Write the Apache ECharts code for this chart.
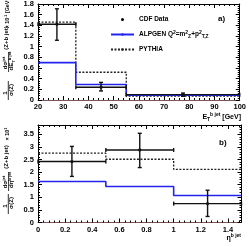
<!DOCTYPE html>
<html><head><meta charset="utf-8">
<script src="https://cdn.jsdelivr.net/npm/echarts@6/dist/echarts.min.js"></script>
<style>html,body{margin:0;padding:0;background:#fff}#c{width:249px;height:247px}</style>
</head><body><div id="c"></div>
<script>
// ---- Panel a) : E_T of b jet ----
var edgesA = [20, 35, 55, 100];
var cdfXA = [27.5, 45, 77.5];
var cdfA = [1.42, 0.24, 0.10];
var cdfLoA = [1.12, 0.17, 0.07];
var cdfHiA = [1.71, 0.33, 0.13];
var alpgenA = [0.70, 0.29, 0.09];
var pythiaA = [1.46, 0.52, 0.075];
var xTicksA = [20, 30, 40, 50, 60, 70, 80, 90, 100];
var yTicksA = [0, 0.2, 0.4, 0.6, 0.8, 1, 1.2, 1.4, 1.6, 1.8];
// ---- Panel b) : eta of b jet ----
var edgesB = [0, 0.5, 1.0, 1.5];
var cdfXB = [0.25, 0.75, 1.25];
var cdfB = [2.42, 2.88, 0.75];
var cdfLoB = [1.83, 2.18, 0.24];
var cdfHiB = [3.02, 3.54, 1.28];
var alpgenB = [1.63, 1.43, 1.07];
var pythiaB = [2.75, 2.51, 2.11];
var xTicksB = [0, 0.2, 0.4, 0.6, 0.8, 1, 1.2, 1.4];
var yTicksB = [0, 0.5, 1, 1.5, 2, 2.5, 3, 3.5];

var FF = '"Liberation Sans", Arial, sans-serif';
var BLUE = '#2424f0';

function stepData(edges, vals) {
  var d = [];
  for (var i = 0; i < vals.length; i++) d.push([edges[i], vals[i]]);
  d.push([edges[edges.length - 1], vals[vals.length - 1]]);
  return d;
}
function errData(edges, xs, ys, lo, hi) {
  var d = [];
  for (var i = 0; i < xs.length; i++) d.push([xs[i], ys[i], lo[i], hi[i], edges[i], edges[i + 1]]);
  return d;
}
function renderErr(params, api) {
  var p = api.coord([api.value(0), api.value(1)]);
  var pl = api.coord([api.value(4), api.value(1)]);
  var pr = api.coord([api.value(5), api.value(1)]);
  var plo = api.coord([api.value(0), api.value(2)]);
  var phi = api.coord([api.value(0), api.value(3)]);
  var st = {stroke: '#111', lineWidth: 1.4};
  var c = 2;
  return {type: 'group', children: [
    {type: 'line', shape: {x1: pl[0], y1: p[1], x2: pr[0], y2: p[1]}, style: st},
    {type: 'line', shape: {x1: pl[0], y1: p[1] - c, x2: pl[0], y2: p[1] + c}, style: st},
    {type: 'line', shape: {x1: pr[0], y1: p[1] - c, x2: pr[0], y2: p[1] + c}, style: st},
    {type: 'line', shape: {x1: p[0], y1: plo[1], x2: p[0], y2: phi[1]}, style: st},
    {type: 'line', shape: {x1: p[0] - c, y1: plo[1], x2: p[0] + c, y2: plo[1]}, style: st},
    {type: 'line', shape: {x1: p[0] - c, y1: phi[1], x2: p[0] + c, y2: phi[1]}, style: st},
    {type: 'circle', shape: {cx: p[0], cy: p[1], r: 1.6}, style: {fill: '#111'}}
  ]};
}
function isTick(v, ticks) {
  for (var i = 0; i < ticks.length; i++) if (Math.abs(ticks[i] - v) < 1e-6) return true;
  return false;
}
var lblStyle = {fontSize: 7.5, fontWeight: 'bold', color: '#000', fontFamily: FF};
function xAxisDef(grid, min, max, interval, ticks, pos, labels, lineColor) {
  return {
    type: 'value', gridIndex: grid, min: min, max: max, interval: interval, position: pos,
    axisLine: {show: true, onZero: false, lineStyle: {color: lineColor || '#000', width: 1}},
    axisTick: {show: true, inside: true, length: 4, lineStyle: {color: '#000'}},
    minorTick: {show: true, splitNumber: 5, length: 2, lineStyle: {color: '#000'}},
    splitLine: {show: false},
    axisLabel: labels ? Object.assign({margin: 3, showMaxLabel: isTick(max, ticks),
      formatter: function (v) { return isTick(v, ticks) ? String(v) : ''; }}, lblStyle) : {show: false}
  };
}
function yAxisDef(grid, min, max, interval, ticks, pos, labels) {
  return {
    type: 'value', gridIndex: grid, min: min, max: max, interval: interval, position: pos,
    axisLine: {show: true, onZero: false, lineStyle: {color: '#000', width: 1}},
    axisTick: {show: true, inside: true, length: 4, lineStyle: {color: '#000'}},
    minorTick: {show: true, splitNumber: 5, length: 2, lineStyle: {color: '#000'}},
    splitLine: {show: false},
    axisLabel: labels ? Object.assign({margin: 4, showMaxLabel: isTick(max, ticks),
      formatter: function (v) { return isTick(v, ticks) ? String(v) : ''; }}, lblStyle) : {show: false}
  };
}

var richSS = {
  sup: {fontSize: 5, fontWeight: 'bold', fontFamily: FF, verticalAlign: 'top', lineHeight: 9},
  sub: {fontSize: 5, fontWeight: 'bold', fontFamily: FF, verticalAlign: 'bottom', lineHeight: 9},
  n: {fontSize: 6.5, fontWeight: 'bold', fontFamily: FF, lineHeight: 9}
};
function rtext(cx, cy, txt, size) {
  var s = size || 6;
  return {type: 'text', x: cx, y: cy, rotation: Math.PI / 2, z: 100,
    style: {text: txt, x: 0, y: 0, align: 'center', verticalAlign: 'middle', textAlign: 'center', textVerticalAlign: 'middle',
      fill: '#000', font: 'bold ' + s + 'px ' + FF,
      rich: {
        sup: {fontSize: s * 0.7, fontWeight: 'bold', fontFamily: FF, verticalAlign: 'top', lineHeight: 8},
        sub: {fontSize: s * 0.7, fontWeight: 'bold', fontFamily: FF, verticalAlign: 'bottom', lineHeight: 8},
        n: {fontSize: s, fontWeight: 'bold', fontFamily: FF, lineHeight: 8}
      }}};
}
function vline(x, y1, y2) {
  return {type: 'line', z: 100, shape: {x1: x, y1: y1, x2: x, y2: y2}, style: {stroke: '#000', lineWidth: 0.8}};
}
function htext(x, y, txt, size, align) {
  return {type: 'text', x: x, y: y, z: 100,
    style: {text: txt, x: 0, y: 0, align: align || 'left', textAlign: align || 'left', verticalAlign: 'middle', textVerticalAlign: 'middle',
      fill: '#000', font: 'bold ' + size + 'px ' + FF,
      rich: {
        sup: {fontSize: 5, fontWeight: 'bold', fontFamily: FF, verticalAlign: 'top', lineHeight: 10},
        sub: {fontSize: 5, fontWeight: 'bold', fontFamily: FF, verticalAlign: 'bottom', lineHeight: 10},
        n: {fontSize: size, fontWeight: 'bold', fontFamily: FF, lineHeight: 10}
      }}};
}

var chart = echarts.init(document.getElementById('c'), null, {renderer: 'canvas'});
chart.setOption({
  animation: false,
  backgroundColor: '#fff',
  grid: [
    {left: 38, right: 7.5, top: 4, height: 96},
    {left: 38, right: 7.5, top: 125, height: 97.5}
  ],
  xAxis: [
    xAxisDef(0, 20, 100, 10, xTicksA, 'bottom', true, '#7d5656'),
    xAxisDef(0, 20, 100, 10, xTicksA, 'top', false),
    xAxisDef(1, 0, 1.5, 0.2, xTicksB, 'bottom', true, '#7d5656'),
    xAxisDef(1, 0, 1.5, 0.2, xTicksB, 'top', false)
  ],
  yAxis: [
    yAxisDef(0, 0, 1.8, 0.2, yTicksA, 'left', true),
    yAxisDef(0, 0, 1.8, 0.2, yTicksA, 'right', false),
    yAxisDef(1, 0, 3.87, 0.5, yTicksB, 'left', true),
    yAxisDef(1, 0, 3.87, 0.5, yTicksB, 'right', false)
  ],
  legend: {
    orient: 'vertical', left: 105, top: 10, itemWidth: 23, itemHeight: 3, itemGap: 6,
    selectedMode: false,
    textStyle: {fontSize: 6.5, fontWeight: 'bold', fontFamily: FF, color: '#000', lineHeight: 10, rich: richSS},
    formatter: function (name) {
      if (name.indexOf('ALPGEN') === 0) return '{n|ALPGEN Q}{sup|2}{n|=m}{sup|2}{sub|Z}{n|+p}{sup|2}{sub|T,Z}';
      return '{n|' + name + '}';
    },
    data: [
      {name: 'CDF Data', icon: 'circle', itemStyle: {color: '#000'}},
      {name: 'ALPGEN Q2=mZ2+pTZ2'},
      {name: 'PYTHIA'}
    ]
  },
  series: [
    {name: 'PYTHIA', type: 'line', step: 'end', xAxisIndex: 0, yAxisIndex: 0, symbol: 'none',
      lineStyle: {color: '#222', width: 1.3, type: [2, 1.5]}, itemStyle: {color: '#222'}, data: stepData(edgesA, pythiaA), z: 2},
    {name: 'ALPGEN Q2=mZ2+pTZ2', type: 'line', step: 'end', xAxisIndex: 0, yAxisIndex: 0, symbol: 'none',
      lineStyle: {color: BLUE, width: 1.6}, itemStyle: {color: BLUE}, data: stepData(edgesA, alpgenA), z: 3},
    {name: 'CDF Data', type: 'custom', xAxisIndex: 0, yAxisIndex: 0, renderItem: renderErr,
      itemStyle: {color: '#000'}, data: errData(edgesA, cdfXA, cdfA, cdfLoA, cdfHiA), z: 4},
    {name: 'PYTHIA', type: 'line', step: 'end', xAxisIndex: 2, yAxisIndex: 2, symbol: 'none',
      lineStyle: {color: '#222', width: 1.3, type: [2, 1.5]}, itemStyle: {color: '#222'}, data: stepData(edgesB, pythiaB), z: 2},
    {name: 'ALPGEN Q2=mZ2+pTZ2', type: 'line', step: 'end', xAxisIndex: 2, yAxisIndex: 2, symbol: 'none',
      lineStyle: {color: BLUE, width: 1.6}, itemStyle: {color: BLUE}, data: stepData(edgesB, alpgenB), z: 3},
    {name: 'CDF Data', type: 'custom', xAxisIndex: 2, yAxisIndex: 2, renderItem: renderErr,
      itemStyle: {color: '#000'}, data: errData(edgesB, cdfXB, cdfB, cdfLoB, cdfHiB), z: 4}
  ],
  graphic: [
    htext(218, 19, 'a)', 8),
    htext(219, 143, 'b)', 8),
    htext(241, 117, '{n|E}{sub|T}{sup|b jet}{n| [GeV]}', 7, 'right'),
    htext(241, 238, '{n|η}{sup|b jet}', 7, 'right'),
    // top y title
    rtext(5.5, 93, '{n|1}'),
    rtext(11.5, 90, '{n|σ(Z)}'),
    vline(8.3, 81, 100),
    rtext(5.5, 63, '{n|dσ}{sup|jet}'),
    rtext(11.8, 61, '{n|dE}{sub|T}{sup|b jet}'),
    vline(8.6, 52, 72),
    rtext(6.5, 38, '{n|(Z+b jet)}'),
    rtext(7.5, 12, '{n|× 10}{sup|-1}{n| [GeV}{sup|-1}{n|]}', 5.3),
    // bottom y title
    rtext(5.5, 206, '{n|1}'),
    rtext(11.5, 203, '{n|σ(Z)}'),
    vline(8.3, 194, 214),
    rtext(5.5, 182, '{n|dσ}{sup|jet}'),
    rtext(11.8, 180, '{n|dη}{sup|b jet}'),
    vline(8.6, 172, 191),
    rtext(6.5, 157, '{n|(Z+b jet)}'),
    rtext(7.5, 134, '{n|× 10}{sup|1}', 5.5)
  ]
});
</script>
</body></html>
